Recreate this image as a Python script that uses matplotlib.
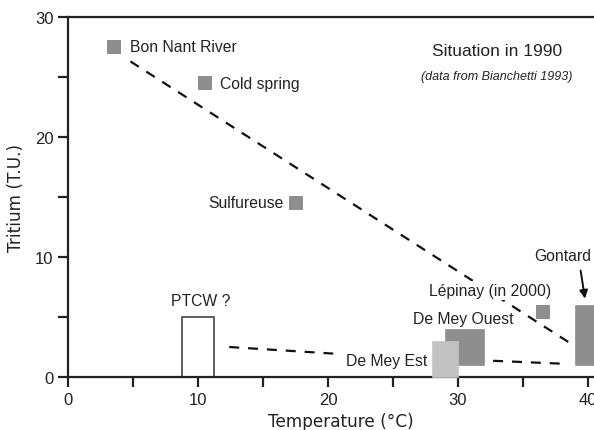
import matplotlib.pyplot as plt
from matplotlib.patches import Rectangle
from matplotlib.ticker import MultipleLocator

# point samples (temperature °C, tritium T.U.)
point_names = ["Bon Nant River", "Cold spring", "Sulfureuse", "Lépinay (in 2000)"]
point_temp = [3.5, 10.5, 17.5, 36.5]
point_trit = [27.5, 24.5, 14.5, 5.4]

# ranges drawn as boxes: (t_min, t_max, tritium_min, tritium_max)
box_names = ["PTCW ?", "De Mey Est", "De Mey Ouest", "Gontard"]
box_tmin = [8.8, 28.1, 29.1, 39.1]
box_tmax = [11.2, 30.0, 32.0, 42.0]
box_ymin = [0.0, 0.0, 1.0, 1.0]
box_ymax = [5.0, 2.9, 3.9, 5.9]

# dashed mixing lines
line1_t = [4.8, 38.8]
line1_y = [26.3, 2.7]
line2_t = [12.4, 20.4]
line2_y = [2.5, 1.95]
line3_t = [32.7, 38.2]
line3_y = [1.35, 1.1]

TXT = "#222222"
FONT = "Liberation Sans"
LS = 11.3

fig = plt.figure(figsize=(5.94, 4.31), dpi=100)
ax = fig.add_axes([68 / 594, 53 / 431, 546 / 594, 360 / 431])

ax.set_xlim(0, 42)
ax.set_ylim(0, 30)

# boxes
box_face = ["white", "#c2c2c2", "#8e8e8e", "#8e8e8e"]
box_edge = ["#444444", "#c2c2c2", "#8e8e8e", "#8e8e8e"]
box_z = [2, 3, 2, 2]
for i in range(len(box_names)):
    ax.add_patch(Rectangle(
        (box_tmin[i], box_ymin[i]),
        box_tmax[i] - box_tmin[i],
        box_ymax[i] - box_ymin[i],
        facecolor=box_face[i], edgecolor=box_edge[i],
        linewidth=1.2, zorder=box_z[i], clip_on=False
    ))

# dashed lines
for t, y in [(line1_t, line1_y), (line2_t, line2_y), (line3_t, line3_y)]:
    ax.plot(t, y, color="#111111", linewidth=1.6, dashes=(4.5, 4), zorder=1)

# points
ax.scatter(point_temp, point_trit, marker="s", s=95, color="#8e8e8e",
           linewidths=0, zorder=3)

# labels
ax.text(4.8, 27.5, point_names[0], fontsize=LS, family=FONT,
        color=TXT, va="center", ha="left")
ax.text(11.7, 24.5, point_names[1], fontsize=LS, family=FONT,
        color=TXT, va="center", ha="left")
ax.text(16.6, 14.5, point_names[2], fontsize=LS, family=FONT,
        color=TXT, va="center", ha="right")
ax.text(32.5, 7.2, point_names[3], fontsize=LS, family=FONT,
        color=TXT, va="center", ha="center", zorder=4,
        bbox=dict(facecolor="white", edgecolor="none", pad=1.5))
ax.text(10.2, 6.4, box_names[0], fontsize=LS, family=FONT,
        color=TXT, va="center", ha="center")
ax.text(27.6, 1.35, box_names[1], fontsize=LS, family=FONT,
        color=TXT, va="center", ha="right")
ax.text(30.4, 4.9, box_names[2], fontsize=LS, family=FONT,
        color=TXT, va="center", ha="center")
ax.text(35.9, 10.1, box_names[3], fontsize=LS, family=FONT,
        color=TXT, va="center", ha="left")

ax.annotate("", xy=(39.8, 6.3), xytext=(39.4, 9.1),
            arrowprops=dict(arrowstyle="-|>", color="#111111",
                            linewidth=1.4, mutation_scale=12))

ax.text(33.0, 27.2, "Situation in 1990", fontsize=12.5, family=FONT,
        color=TXT, ha="center", va="center")
ax.text(33.0, 25.1, "(data from Bianchetti 1993)", fontsize=9,
        family=FONT, style="italic", color=TXT, ha="center", va="center")

# axes styling
for side in ["left", "bottom", "top"]:
    ax.spines[side].set_linewidth(1.6)
    ax.spines[side].set_color("#222222")
ax.spines["right"].set_visible(False)

ax.xaxis.set_major_locator(MultipleLocator(10))
ax.xaxis.set_minor_locator(MultipleLocator(5))
ax.yaxis.set_major_locator(MultipleLocator(10))
ax.yaxis.set_minor_locator(MultipleLocator(5))
ax.tick_params(which="both", direction="out", width=1.6, color="#222222",
               length=7, labelsize=12, labelcolor=TXT)
for lab in ax.get_xticklabels() + ax.get_yticklabels():
    lab.set_family(FONT)

ax.set_xlabel("Temperature (°C)", fontsize=12.2, color=TXT, labelpad=4)
ax.set_ylabel("Tritium (T.U.)", fontsize=12.2, color=TXT, labelpad=7)

fig.savefig("out.png", dpi=100)
plt.close(fig)
